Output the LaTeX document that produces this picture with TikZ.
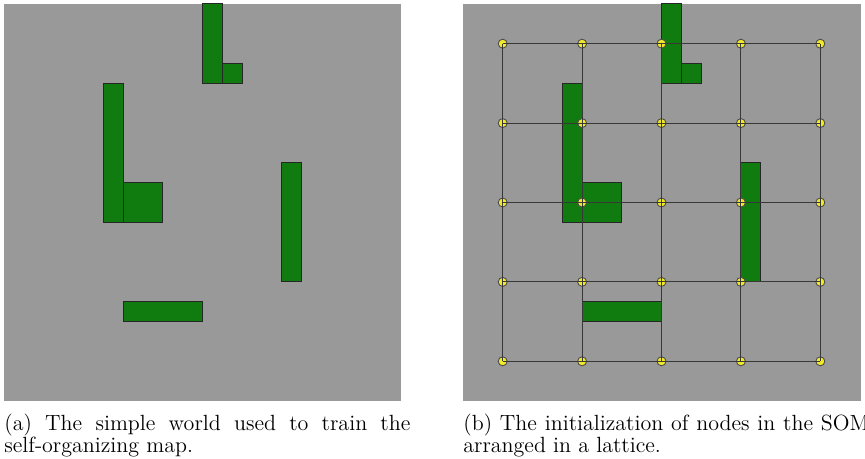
\documentclass[tikz,border=0pt]{standalone}
\definecolor{bg}{RGB}{153,153,153}
\definecolor{obj}{RGB}{16,124,16}
\definecolor{nodey}{RGB}{242,234,40}
\begin{document}
\begin{tikzpicture}[x=0.5pt,y=-0.5pt,
  obstacle/.style={fill=obj,draw=black!85,line width=0.5pt},
  som/.style={circle,fill=nodey,draw=black!70,line width=0.45pt,minimum size=4.5pt,inner sep=0pt},
  link/.style={draw=black!78,line width=0.5pt},
  captext/.style={inner sep=0pt,anchor=base west,font=\fontsize{11pt}{11pt}\selectfont}]
\useasboundingbox (0,0) rectangle (865,459);
% panel backgrounds
\fill[bg] (4,4) rectangle (401,401);
\fill[bg] (463,4) rectangle (861,401);
% world objects, left and right
\foreach \xs in {2pt,231.5pt}{
\begin{scope}[xshift=\xs,yshift=-2pt,x=9.925pt,y=-9.925pt]
  \foreach \a/\b/\c/\d in {10/0/11/4, 11/3/12/4, 5/4/6/11, 6/9/8/11, 14/8/15/14, 6/15/10/16}
    \draw[obstacle] (\a,\b) rectangle (\c,\d);
\end{scope}
}
% SOM lattice
\begin{scope}[xshift=231.5pt,yshift=-2pt,x=9.925pt,y=-9.925pt]
  \foreach \i in {0,...,4}
    \foreach \j in {0,...,4}
      \node[som] (n\i\j) at ({2+4*\i},{2+4*\j}) {};
  \foreach \i in {0,...,4}
    \foreach \j in {0,...,3}{
      \pgfmathtruncatemacro{\k}{\j+1}
      \draw[link] (n\i\j.center) -- (n\i\k.center);
      \draw[link] (n\j\i.center) -- (n\k\i.center);
    }
\end{scope}
% captions
\node[captext] (capa1) at (4,430) {\makebox[203pt][s]{(a) The simple world used to train the}};
\node[captext] (capa2) at (4,452) {self-organizing map.};
\node[captext] (capb1) at (463,430) {\makebox[203pt][s]{(b) The initialization of nodes in the SOM}};
\node[captext] (capb2) at (463,452) {arranged in a lattice.};
\end{tikzpicture}
\end{document}
